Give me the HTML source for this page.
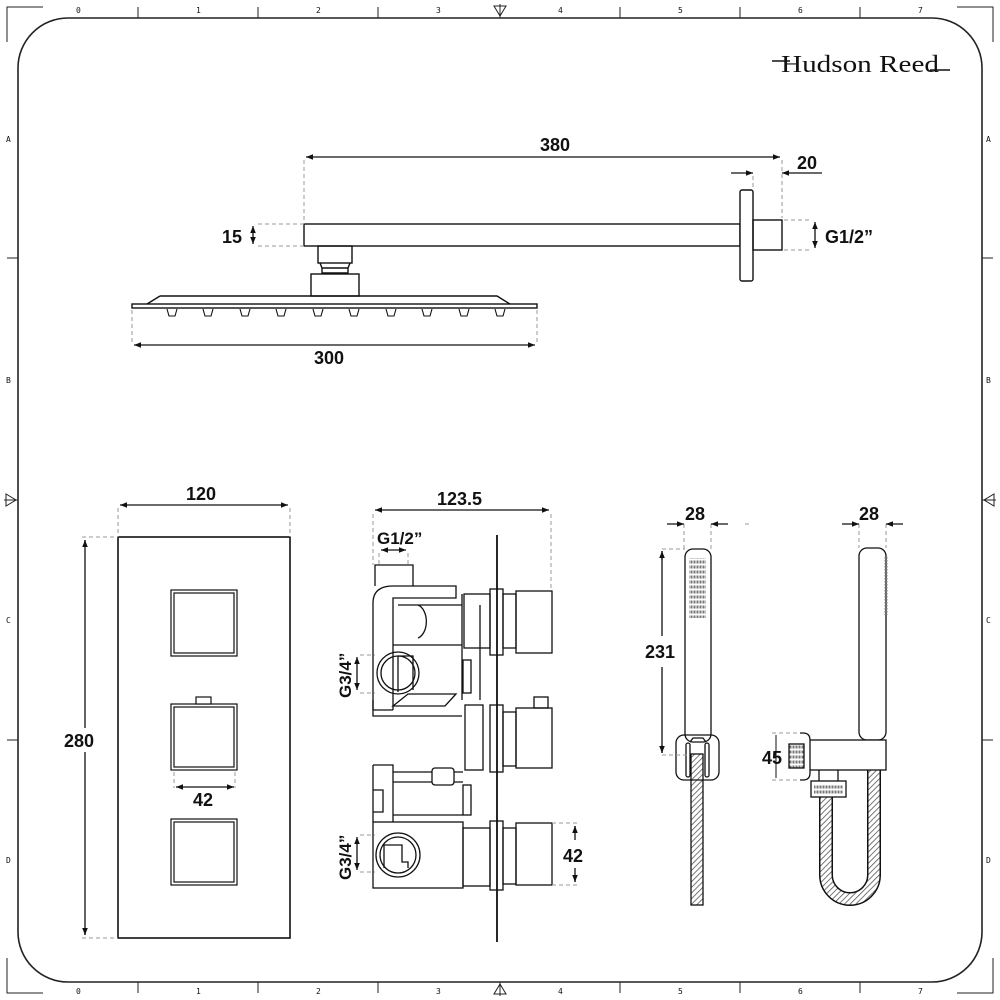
<!DOCTYPE html>
<html><head><meta charset="utf-8"><style>
html,body{margin:0;padding:0;background:#fff}
svg{display:block}
.t{font-family:"Liberation Sans",sans-serif;font-weight:bold;fill:#111}
.s{font-family:"DejaVu Sans Mono","Liberation Mono",monospace;font-size:8px;fill:#111}
</style></head><body>
<svg width="1000" height="1000" viewBox="0 0 1000 1000" xmlns="http://www.w3.org/2000/svg">
<defs>
<marker id="a" viewBox="0 0 10 10" refX="10" refY="5" markerWidth="9" markerHeight="7" orient="auto-start-reverse" markerUnits="userSpaceOnUse"><path d="M0 1 L10 5 L0 9 z" fill="#111"/></marker>
<pattern id="h" width="4" height="4" patternUnits="userSpaceOnUse" patternTransform="rotate(45)"><rect width="4" height="4" fill="#fff"/><line x1="0" y1="0" x2="0" y2="4" stroke="#555" stroke-width="1.6"/></pattern>
<pattern id="g" width="3" height="5" patternUnits="userSpaceOnUse"><rect width="3" height="5" fill="#fff"/><rect x="0.5" y="0.5" width="2" height="3" fill="#777"/></pattern>
</defs>
<g fill="none" stroke="#222" stroke-width="1.3">
<rect x="18" y="18" width="964" height="964" rx="50" stroke-width="1.6"/>
<path d="M7 42 V7 H43 M957 7 H993 V42 M7 958 V993 H43 M957 993 H993 V958" stroke-width="1"/>
<path d="M138 7V18 M258 7V18 M378 7V18 M620 7V18 M740 7V18 M860 7V18 M138 982V993 M258 982V993 M378 982V993 M620 982V993 M740 982V993 M860 982V993 M7 258H18 M7 740H18 M982 258H993 M982 740H993" stroke-width="1"/>
<path d="M494 6 L506 6 L500 16 z M494 994 L506 994 L500 984 z M6 494 L6 506 L16 500 z M994 494 L994 506 L984 500 z M500 4V18 M500 982V996 M4 500H18 M982 500H996" stroke-width="1"/>
</g>
<g class="s">
<text x="76" y="13">0</text><text x="196" y="13">1</text><text x="316" y="13">2</text><text x="436" y="13">3</text><text x="558" y="13">4</text><text x="678" y="13">5</text><text x="798" y="13">6</text><text x="918" y="13">7</text>
<text x="76" y="994">0</text><text x="196" y="994">1</text><text x="316" y="994">2</text><text x="436" y="994">3</text><text x="558" y="994">4</text><text x="678" y="994">5</text><text x="798" y="994">6</text><text x="918" y="994">7</text>
<text x="6" y="142">A</text><text x="6" y="383">B</text><text x="6" y="623">C</text><text x="6" y="863">D</text>
<text x="986" y="142">A</text><text x="986" y="383">B</text><text x="986" y="623">C</text><text x="986" y="863">D</text>
</g>
<text x="781" y="72" font-family="Liberation Serif,serif" font-size="24" fill="#111" textLength="158" lengthAdjust="spacingAndGlyphs">Hudson Reed</text>
<path d="M772 61 H790 M930 70 H950" stroke="#111" stroke-width="1.5"/>

<g fill="none" stroke="#111" stroke-width="1.4">
<rect x="304" y="224" width="436" height="22" fill="#fff"/>
<rect x="740" y="190" width="13" height="91" rx="2" fill="#fff"/>
<rect x="753" y="220" width="29" height="30"/>
<rect x="318" y="246" width="34" height="17"/>
<path d="M320 263 L322 268 L348 268 L350 263 M322 268 V273 H348 V268"/>
<rect x="311" y="274" width="48" height="22"/>
<path d="M160 296 H497 L510 304 M160 296 L147 304"/>
<rect x="132" y="304" width="405" height="4"/>
<g stroke-width="1.1">
<path d="M167 309 L169 316 H175 L177 309 M203 309 L205 316 H211 L213 309 M240 309 L242 316 H248 L250 309 M276 309 L278 316 H284 L286 309 M313 309 L315 316 H321 L323 309 M349 309 L351 316 H357 L359 309 M386 309 L388 316 H394 L396 309 M422 309 L424 316 H430 L432 309 M459 309 L461 316 H467 L469 309 M495 309 L497 316 H503 L505 309"/>
</g>
</g>
<g stroke="#999" stroke-width="1" stroke-dasharray="4,3" fill="none">
<path d="M304 160 V224 M782 160 V218 M753 176 V188 M132 310 V345 M537 310 V345 M258 224 H304 M258 246 H304 M784 220 H812 M784 250 H812"/>
</g>
<g stroke="#111" stroke-width="1.3" fill="none">
<path d="M306 157 H780" marker-start="url(#a)" marker-end="url(#a)"/>
<path d="M731 173 H753" marker-end="url(#a)"/><path d="M822 173 H782" marker-end="url(#a)"/>
<path d="M134 345 H535" marker-start="url(#a)" marker-end="url(#a)"/>
<path d="M253 226 V244" marker-start="url(#a)" marker-end="url(#a)"/>
<path d="M815 222 V248" marker-start="url(#a)" marker-end="url(#a)"/>
</g>
<text class="t" x="540" y="151" font-size="18">380</text>
<text class="t" x="797" y="169" font-size="18">20</text>
<text class="t" x="222" y="243" font-size="18">15</text>
<text class="t" x="825" y="243" font-size="18">G1/2”</text>
<text class="t" x="314" y="364" font-size="18">300</text>

<g fill="none" stroke="#111" stroke-width="1.6">
<rect x="118" y="537" width="172" height="401"/>
<rect x="171" y="590" width="66" height="66" stroke-width="1.2"/><rect x="174" y="593" width="60" height="60" stroke-width="1.2"/>
<rect x="171" y="704" width="66" height="66" stroke-width="1.2"/><rect x="174" y="707" width="60" height="60" stroke-width="1.2"/>
<rect x="171" y="819" width="66" height="66" stroke-width="1.2"/><rect x="174" y="822" width="60" height="60" stroke-width="1.2"/>
<rect x="196" y="697" width="15" height="7" stroke-width="1.2" fill="#fff"/>
</g>
<g stroke="#999" stroke-width="1" stroke-dasharray="4,3" fill="none">
<path d="M118 508 V537 M290 508 V537 M82 537 H118 M82 938 H118 M174 772 V788 M235 772 V788"/>
</g>
<g stroke="#111" stroke-width="1.3" fill="none">
<path d="M120 505 H288" marker-start="url(#a)" marker-end="url(#a)"/>
<path d="M85 540 V728 M85 752 V935" /><path d="M85 545 V540" marker-end="url(#a)"/><path d="M85 930 V935" marker-end="url(#a)"/>
<path d="M176 787 H234" marker-start="url(#a)" marker-end="url(#a)"/>
</g>
<text class="t" x="186" y="500" font-size="18">120</text>
<text class="t" x="64" y="747" font-size="18">280</text>
<text class="t" x="193" y="806" font-size="18">42</text>

<g fill="none" stroke="#111" stroke-width="1.3">
<path d="M497 535 V942" stroke-width="1.8"/>
<path d="M375 586 V565 H413 V586"/>
<path d="M373 710 V603 Q373 586 393 586 H456 V598 H393 V710"/>
<path d="M418 605 A11 17 0 0 1 418 638 M398 605 H462 M393 645 H462 M462 594 V700"/>
<rect x="464" y="594" width="26" height="54"/>
<rect x="490" y="589" width="13" height="66"/>
<rect x="503" y="594" width="13" height="54"/>
<rect x="516" y="591" width="36" height="62"/>
<path d="M480 605 V700"/>
<circle cx="398" cy="673" r="21"/><circle cx="398" cy="673" r="17"/>
<path d="M398 656 V692 M398 656 H413 V690"/>
<rect x="463" y="660" width="8" height="33"/>
<path d="M373 710 H393 M393 706 L408 694 H456 L445 706 Z"/>
<path d="M373 700 V716 H462"/>
<rect x="465" y="705" width="18" height="65"/>
<rect x="490" y="705" width="13" height="67"/>
<rect x="503" y="712" width="13" height="54"/>
<rect x="516" y="708" width="36" height="60"/>
<rect x="534" y="697" width="14" height="11"/>
<path d="M373 765 H393 V822 M373 765 V822 M373 790 H383 V812 H373"/>
<path d="M393 772 H432 M393 782 H432 M454 772 H463 M454 782 H463"/>
<rect x="432" y="768" width="22" height="17" rx="3"/>
<rect x="463" y="785" width="8" height="30"/>
<path d="M393 815 H463"/>
<rect x="373" y="822" width="90" height="66"/>
<circle cx="398" cy="855" r="22"/><circle cx="398" cy="855" r="18"/>
<path d="M384 845 H402 V862 H408 V868 M384 845 V868"/>
<rect x="463" y="828" width="27" height="58"/>
<rect x="490" y="821" width="13" height="69"/>
<rect x="503" y="828" width="13" height="56"/>
<rect x="516" y="823" width="36" height="62"/>
</g>
<g stroke="#999" stroke-width="1" stroke-dasharray="4,3" fill="none">
<path d="M373 514 V565 M551 514 V590 M360 655 H375 M360 693 H375 M360 835 H375 M360 872 H375 M552 823 H580 M552 885 H580 M379 553 V565 M408 553 V565"/>
</g>
<g stroke="#111" stroke-width="1.3" fill="none">
<path d="M375 510 H549" marker-start="url(#a)" marker-end="url(#a)"/>
<path d="M381 550 H406" marker-start="url(#a)" marker-end="url(#a)"/>
<path d="M357 657 V690" marker-start="url(#a)" marker-end="url(#a)"/>
<path d="M357 837 V870" marker-start="url(#a)" marker-end="url(#a)"/>
<path d="M575 826 V840 M575 868 V882" /><path d="M575 832 V826" marker-end="url(#a)"/><path d="M575 876 V882" marker-end="url(#a)"/>
</g>
<text class="t" x="437" y="505" font-size="18">123.5</text>
<text class="t" x="377" y="544" font-size="17">G1/2”</text>
<text class="t" x="563" y="862" font-size="18">42</text>
<text class="t" font-size="17" transform="translate(351,698) rotate(-90)">G3/4”</text>
<text class="t" font-size="17" transform="translate(351,880) rotate(-90)">G3/4”</text>

<g fill="none" stroke="#111" stroke-width="1.3">
<rect x="685" y="549" width="26" height="193" rx="8" fill="#fff"/>
<rect x="689" y="558" width="17" height="60" fill="url(#g)" stroke="none"/>
<rect x="691" y="754" width="12" height="151" fill="url(#h)"/>
<rect x="676" y="735" width="43" height="45" rx="8"/>
<rect x="686" y="743" width="4" height="34" rx="2"/><rect x="705" y="743" width="4" height="34" rx="2"/>
<path d="M690 742 L693 738 H703 L706 742"/>
</g>
<g stroke="#999" stroke-width="1" stroke-dasharray="4,3" fill="none">
<path d="M684 524 V549 M711 524 V549 M662 549 H685 M662 755 H690 M745 524 H750"/>
</g>
<g stroke="#111" stroke-width="1.3" fill="none">
<path d="M667 524 H684" marker-end="url(#a)"/><path d="M728 524 H711" marker-end="url(#a)"/>
<path d="M662 551 V636 M662 667 V753"/><path d="M662 560 V551" marker-end="url(#a)"/><path d="M662 745 V753" marker-end="url(#a)"/>
</g>
<text class="t" x="685" y="520" font-size="18">28</text>
<text class="t" x="645" y="658" font-size="18">231</text>

<path d="M826 797 V875 A24 24 0 0 0 874 875 V770" fill="none" stroke="#111" stroke-width="14"/>
<path d="M826 797 V875 A24 24 0 0 0 874 875 V770" fill="none" stroke="url(#h)" stroke-width="11"/>
<g fill="none" stroke="#111" stroke-width="1.3">
<rect x="859" y="548" width="27" height="192" rx="8" fill="#fff"/>
<path d="M886 557 V615" stroke="#777" stroke-width="3" stroke-dasharray="1.5,1.5"/>
<rect x="806" y="740" width="80" height="30" fill="#fff"/>
<path d="M800 733 H803 Q810 733 810 740 V773 Q810 780 803 780 H800" fill="#fff"/>
<rect x="789" y="744" width="15" height="24" fill="url(#g)"/>
<path d="M819 770 V781 M838 770 V781"/>
<rect x="811" y="781" width="35" height="16" fill="#fff"/>
<rect x="814" y="784" width="29" height="10" fill="url(#g)" stroke="none"/>
</g>
<g stroke="#999" stroke-width="1" stroke-dasharray="4,3" fill="none">
<path d="M859 524 V548 M886 524 V548 M772 733 H800 M772 780 H800"/>
</g>
<g stroke="#111" stroke-width="1.3" fill="none">
<path d="M842 524 H859" marker-end="url(#a)"/><path d="M903 524 H886" marker-end="url(#a)"/>
<path d="M776 735 V778" stroke-width="1"/>
</g>
<text class="t" x="859" y="520" font-size="18">28</text>
<text class="t" x="762" y="764" font-size="18">45</text>
</svg>
</body></html>
